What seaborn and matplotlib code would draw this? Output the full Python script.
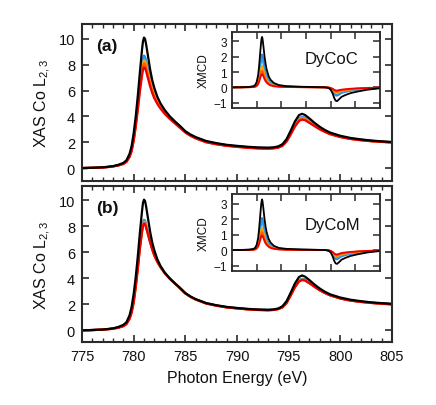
import numpy as np
import pandas as pd
import matplotlib
matplotlib.use("Agg")
import matplotlib.pyplot as plt
import seaborn as sns
from matplotlib.ticker import MultipleLocator

sns.set_theme(style="white")
plt.rcParams['font.family'] = ['Liberation Sans', 'DejaVu Sans']
plt.rcParams['mathtext.fontset'] = 'custom'
plt.rcParams['mathtext.rm'] = 'Liberation Sans'
plt.rcParams['mathtext.it'] = 'Liberation Sans:italic'

# ---------------- data ----------------
series_names = ["s1", "s2", "s3", "s4", "s5", "black"]
series_colors = ["#4a72e8", "#1fa2ea", "#ffa200", "#ff5a00", "#ee0000", "#000000"]

energy_xas = [775, 776, 777, 777.5, 778, 778.5, 779, 779.3, 779.6, 779.8,
              780.0, 780.2, 780.4, 780.6, 780.8, 780.9, 781.0, 781.1, 781.2, 781.4,
              781.6, 781.8, 782.0, 782.3, 782.6, 783.0, 783.5, 784.0, 784.5, 785.0,
              785.5, 786.0, 787, 788, 789, 790, 791, 792, 793, 793.5,
              794.0, 794.4, 794.8, 795.2, 795.6, 796.0, 796.3, 796.6, 797.0, 797.5,
              798.0, 798.5, 799.0, 800, 801, 802, 803, 804, 805]

# panel (a) XAS
xas_a_s1 = [0.0, 0.02, 0.05, 0.09, 0.14, 0.22, 0.35, 0.52, 0.95, 1.45,
            2.3, 3.5, 5.0, 6.6, 7.9, 8.45, 8.7, 8.62, 8.3, 7.6,
            6.9, 6.3, 5.8, 5.25, 4.85, 4.4, 3.95, 3.58, 3.2, 2.82,
            2.56, 2.36, 2.06, 1.9, 1.77, 1.69, 1.62, 1.57, 1.55, 1.57,
            1.64, 1.8, 2.15, 2.75, 3.4, 3.85, 3.95, 3.9, 3.68, 3.38,
            3.1, 2.88, 2.7, 2.45, 2.29, 2.19, 2.11, 2.05, 2.0]
xas_a_s2 = [0.0, 0.02, 0.05, 0.09, 0.14, 0.22, 0.35, 0.51, 0.93, 1.42,
            2.25, 3.45, 4.9, 6.5, 7.8, 8.35, 8.6, 8.53, 8.22, 7.55,
            6.85, 6.27, 5.78, 5.24, 4.84, 4.4, 3.96, 3.58, 3.2, 2.82,
            2.56, 2.36, 2.06, 1.89, 1.76, 1.68, 1.61, 1.56, 1.54, 1.56,
            1.63, 1.78, 2.13, 2.72, 3.36, 3.82, 3.92, 3.87, 3.65, 3.36,
            3.08, 2.87, 2.69, 2.44, 2.28, 2.18, 2.1, 2.04, 1.99]
xas_a_s3 = [0.0, 0.02, 0.05, 0.08, 0.13, 0.21, 0.33, 0.5, 0.9, 1.38,
            2.2, 3.35, 4.75, 6.3, 7.55, 8.1, 8.35, 8.28, 8.0, 7.35,
            6.7, 6.12, 5.65, 5.14, 4.76, 4.33, 3.9, 3.53, 3.16, 2.79,
            2.53, 2.33, 2.03, 1.87, 1.74, 1.66, 1.59, 1.54, 1.52, 1.54,
            1.61, 1.76, 2.1, 2.68, 3.3, 3.75, 3.86, 3.8, 3.58, 3.3,
            3.04, 2.84, 2.66, 2.42, 2.27, 2.17, 2.09, 2.04, 1.99]
xas_a_s4 = [0.0, 0.02, 0.05, 0.08, 0.13, 0.2, 0.32, 0.49, 0.87, 1.34,
            2.15, 3.27, 4.62, 6.1, 7.33, 7.87, 8.1, 8.04, 7.76, 7.13,
            6.5, 5.97, 5.52, 5.04, 4.68, 4.27, 3.85, 3.49, 3.13, 2.77,
            2.51, 2.31, 2.01, 1.85, 1.73, 1.65, 1.58, 1.53, 1.51, 1.53,
            1.6, 1.74, 2.08, 2.64, 3.25, 3.7, 3.8, 3.75, 3.54, 3.27,
            3.02, 2.82, 2.64, 2.41, 2.26, 2.16, 2.08, 2.03, 1.98]
xas_a_s5 = [0.0, 0.02, 0.05, 0.08, 0.13, 0.2, 0.32, 0.48, 0.85, 1.3,
            2.1, 3.2, 4.5, 5.9, 7.1, 7.6, 7.8, 7.75, 7.5, 6.9,
            6.3, 5.8, 5.4, 4.95, 4.6, 4.2, 3.8, 3.45, 3.1, 2.75,
            2.5, 2.3, 2.0, 1.84, 1.72, 1.64, 1.57, 1.52, 1.5, 1.52,
            1.58, 1.72, 2.05, 2.6, 3.2, 3.65, 3.75, 3.7, 3.5, 3.25,
            3.0, 2.8, 2.62, 2.4, 2.25, 2.15, 2.08, 2.03, 1.98]
xas_a_black = [0.0, 0.02, 0.06, 0.1, 0.15, 0.25, 0.4, 0.6, 1.1, 1.7,
               2.7, 4.0, 5.6, 7.4, 9.1, 9.8, 10.1, 10.0, 9.6, 8.6,
               7.6, 6.8, 6.2, 5.5, 5.0, 4.5, 4.0, 3.6, 3.25, 2.85,
               2.6, 2.4, 2.1, 1.93, 1.8, 1.72, 1.65, 1.6, 1.58, 1.6,
               1.68, 1.85, 2.25, 2.9, 3.6, 4.1, 4.2, 4.1, 3.85, 3.5,
               3.2, 2.95, 2.75, 2.5, 2.33, 2.22, 2.13, 2.07, 2.02]

# panel (b) XAS
xas_b_s1 = [0.0, 0.02, 0.05, 0.09, 0.14, 0.22, 0.36, 0.54, 0.98, 1.5,
            2.35, 3.55, 5.0, 6.55, 7.8, 8.3, 8.5, 8.45, 8.15, 7.5,
            6.85, 6.28, 5.8, 5.27, 4.87, 4.42, 3.98, 3.6, 3.22, 2.84,
            2.58, 2.38, 2.08, 1.91, 1.78, 1.7, 1.63, 1.58, 1.56, 1.58,
            1.65, 1.8, 2.15, 2.75, 3.4, 3.85, 3.96, 3.91, 3.7, 3.4,
            3.12, 2.9, 2.72, 2.47, 2.31, 2.2, 2.12, 2.06, 2.01]
xas_b_s2 = [0.0, 0.02, 0.05, 0.09, 0.14, 0.22, 0.35, 0.53, 0.96, 1.48,
            2.32, 3.5, 4.95, 6.5, 7.75, 8.25, 8.45, 8.4, 8.1, 7.46,
            6.82, 6.26, 5.78, 5.26, 4.86, 4.41, 3.97, 3.6, 3.22, 2.84,
            2.58, 2.38, 2.08, 1.91, 1.78, 1.7, 1.63, 1.58, 1.56, 1.58,
            1.65, 1.8, 2.14, 2.74, 3.38, 3.83, 3.94, 3.89, 3.68, 3.39,
            3.11, 2.89, 2.71, 2.46, 2.3, 2.2, 2.12, 2.06, 2.01]
xas_b_s3 = [0.0, 0.02, 0.05, 0.08, 0.13, 0.21, 0.34, 0.51, 0.93, 1.43,
            2.25, 3.42, 4.85, 6.4, 7.65, 8.15, 8.35, 8.3, 8.02, 7.4,
            6.78, 6.23, 5.76, 5.25, 4.85, 4.4, 3.96, 3.59, 3.21, 2.83,
            2.57, 2.37, 2.07, 1.9, 1.77, 1.69, 1.62, 1.57, 1.55, 1.57,
            1.64, 1.78, 2.12, 2.72, 3.35, 3.8, 3.91, 3.86, 3.66, 3.37,
            3.1, 2.88, 2.7, 2.45, 2.29, 2.19, 2.11, 2.05, 2.0]
xas_b_s4 = [0.0, 0.02, 0.05, 0.08, 0.13, 0.2, 0.33, 0.5, 0.91, 1.4,
            2.2, 3.38, 4.8, 6.33, 7.58, 8.08, 8.28, 8.23, 7.96, 7.36,
            6.76, 6.22, 5.76, 5.25, 4.85, 4.4, 3.96, 3.59, 3.21, 2.83,
            2.57, 2.37, 2.07, 1.9, 1.77, 1.69, 1.62, 1.57, 1.55, 1.57,
            1.64, 1.78, 2.11, 2.7, 3.33, 3.78, 3.89, 3.84, 3.64, 3.36,
            3.09, 2.88, 2.7, 2.45, 2.29, 2.19, 2.11, 2.05, 2.0]
xas_b_s5 = [0.0, 0.02, 0.05, 0.08, 0.12, 0.19, 0.31, 0.47, 0.86, 1.33,
            2.1, 3.28, 4.7, 6.25, 7.5, 8.0, 8.2, 8.16, 7.9, 7.32,
            6.74, 6.21, 5.76, 5.26, 4.86, 4.41, 3.98, 3.62, 3.24, 2.85,
            2.58, 2.37, 2.06, 1.89, 1.76, 1.68, 1.61, 1.56, 1.54, 1.56,
            1.63, 1.77, 2.1, 2.68, 3.3, 3.75, 3.87, 3.82, 3.62, 3.34,
            3.08, 2.87, 2.69, 2.44, 2.28, 2.18, 2.1, 2.04, 1.99]
xas_b_black = [0.0, 0.02, 0.06, 0.1, 0.15, 0.25, 0.42, 0.62, 1.15, 1.8,
               2.8, 4.1, 5.7, 7.5, 9.1, 9.8, 10.05, 9.95, 9.55, 8.55,
               7.55, 6.75, 6.15, 5.45, 4.95, 4.45, 3.98, 3.6, 3.25, 2.86,
               2.6, 2.4, 2.1, 1.93, 1.8, 1.72, 1.65, 1.6, 1.58, 1.6,
               1.68, 1.85, 2.25, 2.9, 3.6, 4.1, 4.22, 4.12, 3.87, 3.52,
               3.22, 2.97, 2.77, 2.52, 2.35, 2.24, 2.15, 2.09, 2.04]

energy_xmcd = [775, 777, 778.5, 779.3, 779.7, 780.0, 780.3, 780.5, 780.7, 780.9,
               781.0, 781.1, 781.2, 781.4, 781.6, 781.8, 782.0, 782.4, 782.8, 783.5,
               784.5, 786, 789, 792, 794, 794.6, 795.0, 795.4, 795.7, 796.0,
               796.3, 796.7, 797.2, 798.0, 799.0, 800.5, 802.5, 805]

# panel (a) XMCD
xmcd_a_s1 = [0.0, 0.01, 0.02, 0.05, 0.1, 0.23, 0.52, 0.9, 1.42, 1.92,
             2.08, 2.15, 2.05, 1.7, 1.3, 1.0, 0.78, 0.49, 0.33, 0.18,
             0.1, 0.05, 0.03, 0.01, 0.0, -0.03, -0.09, -0.24, -0.41, -0.53,
             -0.55, -0.48, -0.37, -0.3, -0.23, -0.16, -0.09, -0.04]
xmcd_a_s2 = [0.0, 0.01, 0.02, 0.04, 0.09, 0.2, 0.46, 0.8, 1.26, 1.7,
             1.84, 1.9, 1.81, 1.5, 1.15, 0.89, 0.69, 0.43, 0.29, 0.16,
             0.09, 0.05, 0.02, 0.01, 0.0, -0.03, -0.08, -0.2, -0.35, -0.45,
             -0.47, -0.41, -0.32, -0.26, -0.2, -0.14, -0.08, -0.03]
xmcd_a_s3 = [0.0, 0.0, 0.01, 0.03, 0.07, 0.15, 0.34, 0.59, 0.93, 1.25,
             1.36, 1.4, 1.33, 1.1, 0.85, 0.66, 0.51, 0.32, 0.21, 0.12,
             0.07, 0.04, 0.02, 0.01, 0.0, -0.02, -0.06, -0.15, -0.27, -0.34,
             -0.36, -0.31, -0.25, -0.2, -0.15, -0.11, -0.06, -0.02]
xmcd_a_s4 = [0.0, 0.0, 0.01, 0.02, 0.05, 0.12, 0.27, 0.47, 0.73, 0.98,
             1.07, 1.1, 1.05, 0.87, 0.67, 0.52, 0.4, 0.25, 0.17, 0.09,
             0.05, 0.03, 0.01, 0.0, 0.0, -0.02, -0.05, -0.12, -0.21, -0.26,
             -0.28, -0.24, -0.19, -0.16, -0.12, -0.08, -0.05, -0.02]
xmcd_a_s5 = [0.0, 0.0, 0.01, 0.02, 0.04, 0.09, 0.21, 0.37, 0.58, 0.78,
             0.85, 0.88, 0.84, 0.69, 0.53, 0.41, 0.32, 0.2, 0.13, 0.07,
             0.04, 0.02, 0.01, 0.0, 0.0, -0.01, -0.04, -0.09, -0.15, -0.2,
             -0.21, -0.18, -0.15, -0.12, -0.09, -0.06, -0.04, -0.01]
xmcd_a_black = [0.0, 0.01, 0.03, 0.07, 0.15, 0.35, 0.8, 1.4, 2.2, 2.95,
                3.2, 3.3, 3.15, 2.6, 2.0, 1.55, 1.2, 0.75, 0.5, 0.28,
                0.15, 0.08, 0.04, 0.02, 0.0, -0.05, -0.15, -0.4, -0.68, -0.87,
                -0.9, -0.78, -0.62, -0.5, -0.38, -0.27, -0.15, -0.06]

# panel (b) XMCD
xmcd_b_s1 = [0.0, 0.01, 0.02, 0.05, 0.1, 0.22, 0.5, 0.88, 1.37, 1.85,
             2.0, 2.08, 1.98, 1.64, 1.26, 0.97, 0.75, 0.47, 0.31, 0.17,
             0.09, 0.05, 0.03, 0.01, 0.0, -0.03, -0.1, -0.27, -0.45, -0.58,
             -0.6, -0.52, -0.41, -0.33, -0.25, -0.18, -0.1, -0.04]
xmcd_b_s2 = [0.0, 0.01, 0.02, 0.04, 0.09, 0.2, 0.45, 0.79, 1.24, 1.68,
             1.82, 1.88, 1.79, 1.48, 1.14, 0.88, 0.68, 0.42, 0.28, 0.15,
             0.08, 0.05, 0.02, 0.01, 0.0, -0.03, -0.09, -0.23, -0.39, -0.5,
             -0.52, -0.45, -0.36, -0.29, -0.22, -0.16, -0.09, -0.03]
xmcd_b_s3 = [0.0, 0.0, 0.01, 0.03, 0.07, 0.15, 0.35, 0.6, 0.95, 1.28,
             1.39, 1.43, 1.36, 1.13, 0.87, 0.67, 0.52, 0.32, 0.22, 0.12,
             0.07, 0.04, 0.02, 0.01, 0.0, -0.02, -0.07, -0.19, -0.32, -0.4,
             -0.42, -0.36, -0.29, -0.23, -0.18, -0.13, -0.07, -0.03]
xmcd_b_s4 = [0.0, 0.0, 0.01, 0.02, 0.06, 0.13, 0.29, 0.5, 0.78, 1.05,
             1.14, 1.18, 1.12, 0.93, 0.71, 0.55, 0.43, 0.27, 0.18, 0.1,
             0.05, 0.03, 0.01, 0.0, 0.0, -0.02, -0.06, -0.15, -0.26, -0.33,
             -0.35, -0.3, -0.24, -0.19, -0.15, -0.1, -0.06, -0.02]
xmcd_b_s5 = [0.0, 0.0, 0.01, 0.02, 0.04, 0.1, 0.23, 0.4, 0.63, 0.85,
             0.92, 0.95, 0.9, 0.75, 0.57, 0.44, 0.35, 0.22, 0.14, 0.08,
             0.04, 0.02, 0.01, 0.0, 0.0, -0.01, -0.05, -0.12, -0.21, -0.27,
             -0.28, -0.24, -0.19, -0.15, -0.12, -0.08, -0.05, -0.02]
xmcd_b_black = [0.0, 0.01, 0.03, 0.07, 0.15, 0.34, 0.78, 1.38, 2.15, 2.9,
                3.15, 3.27, 3.12, 2.58, 1.98, 1.53, 1.18, 0.74, 0.49, 0.27,
                0.14, 0.08, 0.04, 0.02, 0.0, -0.05, -0.15, -0.4, -0.68, -0.86,
                -0.89, -0.78, -0.62, -0.5, -0.38, -0.27, -0.15, -0.06]

panel_labels = ["(a)", "(b)"]
sample_names = ["DyCoC", "DyCoM"]
x_ticks = [775, 780, 785, 790, 795, 800, 805]
y_ticks_main = [0, 2, 4, 6, 8, 10]
y_ticks_inset = [-1, 0, 1, 2, 3]


def long_df(energy, curves):
    frames = []
    for name, vals in zip(series_names, curves):
        frames.append(pd.DataFrame({"E": energy, "I": vals, "series": name}))
    return pd.concat(frames, ignore_index=True)


xas_a = long_df(energy_xas, [xas_a_s1, xas_a_s2, xas_a_s3, xas_a_s4, xas_a_s5, xas_a_black])
xas_b = long_df(energy_xas, [xas_b_s1, xas_b_s2, xas_b_s3, xas_b_s4, xas_b_s5, xas_b_black])
xmcd_a = long_df(energy_xmcd, [xmcd_a_s1, xmcd_a_s2, xmcd_a_s3, xmcd_a_s4, xmcd_a_s5, xmcd_a_black])
xmcd_b = long_df(energy_xmcd, [xmcd_b_s1, xmcd_b_s2, xmcd_b_s3, xmcd_b_s4, xmcd_b_s5, xmcd_b_black])

palette = dict(zip(series_names, series_colors))
SP = "#2a2a2a"

fig = plt.figure(figsize=(4.36, 4.06), dpi=100)
W, H = 436, 406


def frac(l, t, r, b):
    return [l / W, 1 - b / H, (r - l) / W, (b - t) / H]


ax_a = fig.add_axes(frac(82, 25, 392, 182))
ax_b = fig.add_axes(frac(82, 187, 392, 343))
in_a = fig.add_axes(frac(232, 33, 380, 109))
in_b = fig.add_axes(frac(232, 195, 380, 272))


def style(ax, main=True):
    for s in ax.spines.values():
        s.set_visible(True)
        s.set_color(SP)
        s.set_linewidth(1.5 if main else 1.3)
    ax.set_xlim(775, 805)
    ax.set_xticks(x_ticks)
    if main:
        ax.xaxis.set_minor_locator(MultipleLocator(1))
        ax.set_yticks(y_ticks_main)
        ax.tick_params(which="major", direction="in", length=5, width=1.2,
                       color=SP, top=True, right=True, bottom=True, left=True,
                       labelsize=10.5, pad=5, labelcolor="#111111")
        ax.tick_params(which="minor", direction="in", length=3, width=1.0,
                       color=SP, top=True, bottom=True)
    else:
        ax.set_yticks(y_ticks_inset)
        ax.tick_params(which="major", direction="in", length=5, width=1.1,
                       color=SP, top=True, right=True, bottom=True, left=True,
                       labelsize=8.5, pad=3.5, labelcolor="#111111")
        ax.set_xticklabels([])
    ax.grid(False)
    ax.set_facecolor("white")


for ax, df, ylim in [(ax_a, xas_a, (-1.0, 11.15)), (ax_b, xas_b, (-0.9, 11.1))]:
    sns.lineplot(data=df, x="E", y="I", hue="series", palette=palette,
                 hue_order=series_names, sort=False, estimator=None,
                 linewidth=1.6, legend=False, ax=ax)
    style(ax, main=True)
    ax.set_ylim(*ylim)
    ax.set_ylabel("XAS Co L$_{2,3}$", fontsize=11.5, labelpad=4, color="#111111")

ax_a.set_xlabel("")
ax_a.set_xticklabels([])
ax_b.set_xlabel("Photon Energy (eV)", fontsize=11.5, labelpad=5, color="#111111")

for ax, lab in zip([ax_a, ax_b], panel_labels):
    ax.text(0.045, 0.865, lab, transform=ax.transAxes, fontsize=12.5,
            fontweight="bold", ha="left", va="center", color="#111111")

for ax, df, name, ty in [(in_a, xmcd_a, sample_names[0], 0.645),
                         (in_b, xmcd_b, sample_names[1], 0.60)]:
    sns.lineplot(data=df, x="E", y="I", hue="series", palette=palette,
                 hue_order=series_names, sort=False, estimator=None,
                 linewidth=1.3, legend=False, ax=ax)
    style(ax, main=False)
    ax.set_ylim(-1.35, 3.62)
    ax.set_xlabel("")
    ax.set_ylabel("XMCD", fontsize=8.5, labelpad=3, color="#111111")
    ax.text(0.49, ty, name, transform=ax.transAxes, fontsize=12,
            ha="left", va="center", color="#111111")

fig.savefig("out.png", dpi=100)
